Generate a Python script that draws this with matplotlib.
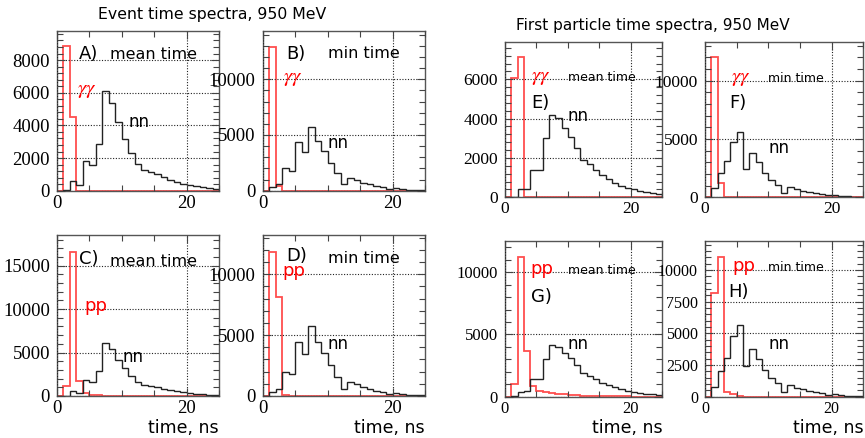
import numpy as np
import matplotlib
matplotlib.use("Agg")
import matplotlib.pyplot as plt
from matplotlib.ticker import MultipleLocator, AutoMinorLocator

plt.rcParams['mathtext.fontset'] = 'stix'

# bin edges, ns (1 ns bins)
edges = np.arange(0, 26)

# black histograms (nn), counts per bin
nn_event_mean = [0, 30, 570, 380, 1830, 1600, 2890, 6080, 5380, 4180, 3180, 2320, 1650,
                 1270, 1160, 1020, 820, 650, 530, 410, 330, 265, 225, 165, 100]
nn_event_min = [0, 360, 570, 2000, 1770, 4400, 3440, 5750, 4460, 3560, 2510, 1560, 600,
                1110, 960, 720, 570, 420, 300, 180, 210, 150, 90, 60, 60]
nn_first_mean = [0, 30, 400, 440, 1400, 1390, 3020, 4190, 4030, 3540, 3080, 2530, 1900,
                 1680, 1390, 1140, 920, 750, 600, 490, 400, 320, 250, 200, 150]
nn_first_min = [0, 770, 2060, 3090, 4770, 5630, 2400, 3770, 3000, 2110, 1490, 1060, 400,
                900, 700, 570, 430, 340, 260, 170, 200, 140, 90, 60, 60]

# red histograms (gamma-gamma / pp)
gg_event_mean = [0, 8850, 4500] + [0] * 22
gg_event_min = [0, 12930, 420] + [0] * 22
pp_event_mean = [0, 1150, 16600, 1730, 300, 150, 100] + [0] * 18
pp_event_min = [0, 11860, 8100, 80] + [0] * 21
gg_first_mean = [0, 6080, 7120, 30, 30] + [0] * 20
gg_first_min = [0, 12000, 1200] + [0] * 22
pp_first_mean = [0, 990, 11260, 3700, 860, 480, 350, 270, 210, 190, 130, 100, 80, 60,
                 50, 40, 40, 30, 30, 20, 0, 0, 0, 0, 0]
pp_first_min = [0, 8210, 11050, 400, 250, 50] + [0] * 19

panel_labels = ["A)", "B)", "C)", "D)", "E)", "F)", "G)", "H)"]
time_kind = ["mean time", "min time", "mean time", "min time",
             "mean time", "min time", "mean time", "min time"]
red_names = [r"$\gamma\gamma$", r"$\gamma\gamma$", "pp", "pp",
             r"$\gamma\gamma$", r"$\gamma\gamma$", "pp", "pp"]

fig = plt.figure(figsize=(8.65, 4.38), dpi=100)

panels = [
    # rect, black, red, ylim, ystep, label pos, kind pos, red pos, nn pos, tick size, kind size
    ([0.0659, 0.5646, 0.1873, 0.3646], nn_event_mean, gg_event_mean, 9780, 2000,
     (0.136, 0.856), (0.327, 0.85), (0.123, 0.63), (0.444, 0.43), 13.5, 11.5),
    ([0.3037, 0.5646, 0.1876, 0.3646], nn_event_min, gg_event_min, 14330, 5000,
     (0.148, 0.856), (0.402, 0.86), (0.123, 0.706), (0.40, 0.30), 13.5, 11.5),
    ([0.0659, 0.0959, 0.1873, 0.3676], nn_event_mean, pp_event_mean, 18530, 5000,
     (0.136, 0.848), (0.327, 0.834), (0.167, 0.56), (0.405, 0.24), 13.5, 11.5),
    ([0.3037, 0.0959, 0.1876, 0.3676], nn_event_min, pp_event_min, 13230, 5000,
     (0.148, 0.87), (0.402, 0.855), (0.12, 0.775), (0.40, 0.32), 13.5, 11.5),
    ([0.5838, 0.5495, 0.1818, 0.3553], nn_first_mean, gg_first_mean, 7910, 2000,
     (0.17, 0.606), (0.40, 0.773), (0.163, 0.773), (0.40, 0.52), 12.5, 9),
    ([0.8150, 0.5495, 0.1830, 0.3553], nn_first_min, gg_first_min, 13345, 5000,
     (0.152, 0.606), (0.40, 0.766), (0.162, 0.766), (0.40, 0.32), 12.5, 9),
    ([0.5838, 0.0943, 0.1818, 0.3562], nn_first_mean, pp_first_mean, 12540, 5000,
     (0.163, 0.64), (0.40, 0.81), (0.163, 0.82), (0.40, 0.34), 12, 9),
    ([0.8150, 0.0943, 0.1830, 0.3562], nn_first_min, pp_first_min, 12310, 2500,
     (0.146, 0.67), (0.40, 0.83), (0.17, 0.84), (0.40, 0.34), 11.5, 9),
]

for i, (rect, black, red, ytop, ystep, p_lab, p_kind, p_red, p_nn, tsize, ksize) in enumerate(panels):
    ax = fig.add_axes(rect)
    ax.stairs(red, edges, color='#ff3030', lw=1.3, alpha=0.85, baseline=0)
    ax.stairs(black, edges, color='#222222', lw=1.0, baseline=0)
    ax.set_xlim(0, 25)
    ax.set_ylim(0, ytop)
    ax.xaxis.set_major_locator(MultipleLocator(20))
    ax.xaxis.set_minor_locator(MultipleLocator(5))
    ax.yaxis.set_major_locator(MultipleLocator(ystep))
    ax.yaxis.set_minor_locator(AutoMinorLocator(5))
    ax.tick_params(which='both', direction='in', top=True, right=True, color='#444444',
                   labelfontfamily='Liberation Serif', labelsize=tsize)
    ax.tick_params(which='major', length=6, width=0.8)
    ax.tick_params(which='minor', length=4, width=0.8)
    ax.tick_params(axis='y', pad=5)
    ax.tick_params(axis='x', pad=3)
    for sp in ax.spines.values():
        sp.set_color('#555555')
        sp.set_linewidth(1.0)
    ax.grid(True, which='major', color='#222222', ls=(0, (1, 1.5)), lw=0.8)
    ax.set_axisbelow(False)

    ax.text(p_lab[0], p_lab[1], panel_labels[i], transform=ax.transAxes,
            fontsize=13, va='center', ha='left')
    ax.text(p_kind[0], p_kind[1], time_kind[i], transform=ax.transAxes,
            fontsize=ksize, va='center', ha='left')
    ax.text(p_red[0], p_red[1], red_names[i], transform=ax.transAxes,
            fontsize=15 if i in (0, 1, 4, 5) else 13, color='red', va='center', ha='left')
    ax.text(p_nn[0], p_nn[1], "nn", transform=ax.transAxes,
            fontsize=12, va='center', ha='left')
    if i in (2, 3, 6, 7):
        ax.text(1.0, -0.2, "time, ns", transform=ax.transAxes,
                fontsize=12.5, va='center', ha='right')

fig.text(0.113, 0.968, "Event time spectra, 950 MeV", fontsize=11.3, va='center', ha='left')
fig.text(0.5965, 0.942, "First particle time spectra, 950 MeV", fontsize=11,
         va='center', ha='left')

fig.savefig("out.png", dpi=100)
